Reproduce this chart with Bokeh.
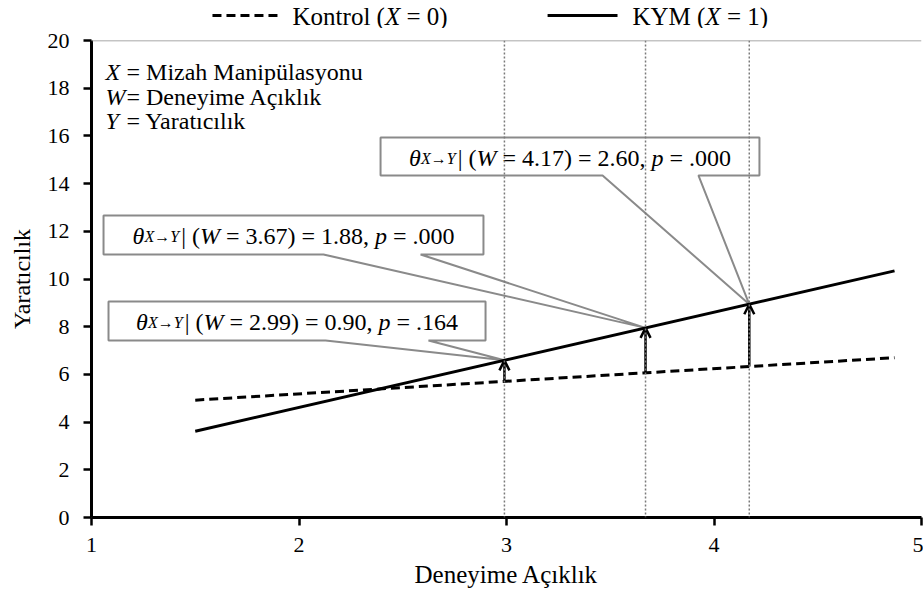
from bokeh.plotting import figure
from bokeh.layouts import column
from bokeh.models import (ColumnDataSource, Span, Arrow, OpenHead, FixedTicker, Range1d)
from bokeh.core.properties import value
from bokeh.embed import file_html
from bokeh.resources import INLINE

# ---------------- data ----------------
w_ends = [1.50, 4.87]
kontrol_y = [4.92, 6.70]
kym_y = [3.62, 10.34]
probe_w = [2.99, 3.67, 4.17]
probe_kontrol = [5.71, 6.07, 6.33]
probe_kym = [6.59, 7.95, 8.94]
theta_vals = ["0.90", "1.88", "2.60"]
p_vals = [".164", ".000", ".000"]
x_ticks = [1, 2, 3, 4, 5]
y_ticks = [0, 2, 4, 6, 8, 10, 12, 14, 16, 18, 20]
legend_names = ["Kontrol", "KYM"]
legend_x_vals = ["0", "1"]
var_letters = ["X", "W", "Y"]
var_names = ["= Mizah  Manipülasyonu", "= Deneyime  Açıklık", "= Yaratıcılık"]
x_title = "Deneyime Açıklık"
y_title = "Yaratıcılık"

# ---------------- layout / style constants ----------------
AX_FONT = "Liberation Serif"
FONT = "Times New Roman"
GRAY = "#8a8a8a"
W_PX = 923
LEG_H = 28
MAIN_H = 599 - LEG_H
# callout boxes (data units): left, right, top, bottom, leader attach 1, attach 2
boxes = [
    dict(l=1.082, r=2.899, t=9.06, b=7.42, a1=2.128, a2=2.624),
    dict(l=1.058, r=2.889, t=12.66, b=11.03, a1=2.118, a2=2.586),
    dict(l=2.393, r=4.219, t=15.93, b=14.34, a1=3.463, a2=3.925),
]
var_x = 1.0675
var_y = [18.70, 17.65, 16.64]
# legend layout (x in the shared data units, y in pixels of the legend strip)
leg_samples = [(1.583, 1.920), (3.198, 3.535)]
leg_text_x = [1.969, 3.607]
leg_line_y = LEG_H - 15
leg_base_y = LEG_H - 15.5

RM = {' ': 250, '(': 333, ')': 333, ',': 250, '.': 250, '=': 564, '|': 200,
      'K': 722, 'Y': 722, 'M': 889, 'o': 500, 'n': 500, 't': 278, 'r': 333, 'l': 278}
IT = {'X': 611, 'W': 833, 'Y': 556, 'p': 500, 'θ': 500, '→': 1000}


def width(s, italic, size):
    tab = IT if italic else RM
    return sum(tab.get(c, 500) for c in s) / 1000.0 * size


def rich_text(fig, x, y, pieces, center=True, yoff=0):
    """pieces: (text, italic, size, gap). Drawn as separate text glyphs."""
    widths = [width(s, it, sz) + gap for s, it, sz, gap in pieces]
    cur = -sum(widths) / 2 if center else 0.0
    groups = {}
    for (s, it, sz, gap), wd in zip(pieces, widths):
        lead = width(s[:len(s) - len(s.lstrip())], False, sz)
        key = (it, sz)
        g = groups.setdefault(key, dict(x=[], y=[], text=[], xo=[]))
        g["x"].append(x)
        g["y"].append(y)
        g["text"].append(s.strip())
        g["xo"].append(cur + gap + lead)
        cur += wd
    for (it, sz), d in groups.items():
        fig.text(x="x", y="y", text="text", x_offset="xo", y_offset=yoff + (1 if sz < 20 else 0),
                 source=ColumnDataSource(d), text_font=value(FONT),
                 text_font_size=value("%dpx" % sz),
                 text_font_style="italic" if it else "normal",
                 text_baseline="alphabetic", text_align="left", text_color="black")


# ---------------- main plot ----------------
p = figure(width=W_PX, height=MAIN_H, x_range=Range1d(1, 5), y_range=Range1d(0, 20),
           output_backend="svg", toolbar_location=None,
           min_border_left=91, min_border_right=2, min_border_top=12, min_border_bottom=82)
p.xgrid.visible = False
p.ygrid.visible = False
p.outline_line_color = None
p.background_fill_color = "white"
p.border_fill_color = "white"

for ax in (p.xaxis[0], p.yaxis[0]):
    ax.axis_line_width = 3
    ax.axis_line_color = "black"
    ax.major_tick_line_width = 2.5
    ax.major_tick_line_color = "black"
    ax.major_tick_out = 8
    ax.major_tick_in = 0
    ax.minor_tick_out = 0
    ax.minor_tick_in = 0
    ax.major_label_text_font = AX_FONT
    ax.major_label_text_font_size = "22px"
    ax.major_label_text_color = "black"
    ax.axis_label_text_font = AX_FONT
    ax.axis_label_text_font_style = "normal"
    ax.axis_label_text_color = "black"
p.xaxis[0].ticker = FixedTicker(ticks=x_ticks)
p.yaxis[0].ticker = FixedTicker(ticks=y_ticks)
p.xaxis[0].axis_label = x_title
p.yaxis[0].axis_label = y_title
p.xaxis[0].axis_label_text_font_size = "25px"
p.yaxis[0].axis_label_text_font_size = "24px"
p.xaxis[0].major_label_standoff = 12
p.yaxis[0].major_label_standoff = 14
p.xaxis[0].axis_label_standoff = 6
p.yaxis[0].axis_label_standoff = 10

# callouts
xs, ys = [], []
for b, tw, ty in zip(boxes, probe_w, probe_kym):
    xs.append([b["l"], b["r"], b["r"], b["a2"], tw, b["a1"], b["l"]])
    ys.append([b["t"], b["t"], b["b"], b["b"], ty, b["b"], b["b"]])
p.patches(xs, ys, fill_color="white", line_color=GRAY, line_width=2)

# lines
p.line(w_ends, kontrol_y, line_color="black", line_width=3, line_dash="9 5")
p.line(w_ends, kym_y, line_color="black", line_width=3)

# arrows
arr_src = ColumnDataSource(dict(x0=probe_w, y0=probe_kontrol, x1=probe_w, y1=probe_kym))
p.add_layout(Arrow(end=OpenHead(size=10, line_width=2.5, line_color="black"),
                   source=arr_src, x_start="x0", y_start="y0", x_end="x1", y_end="y1",
                   line_width=2.5, line_color="black"))

# dotted verticals and top border
for wv in probe_w:
    p.add_layout(Span(location=wv, dimension="height", line_color="#7a7a7a",
                      line_width=1.5, line_dash="2 2"))
p.add_layout(Span(location=y_ticks[-1], dimension="width", line_color=GRAY, line_width=1.5))

# variable definitions text
p.text(x=[var_x] * 3, y=var_y, text=var_letters, text_font=value(FONT),
       text_font_size=value("24px"), text_font_style="italic", text_baseline="alphabetic",
       text_color="black")
p.text(x=[var_x] * 3, y=var_y, text=var_names, text_font=value(FONT),
       text_font_size=value("24px"), text_baseline="alphabetic", x_offset=21,
       text_color="black")

# callout texts
for b, wv, th, pv in zip(boxes, probe_w, theta_vals, p_vals):
    pieces = [("θ", True, 24, 0), ("X→Y", True, 16, 0), ("| (", False, 24, 2),
              ("W", True, 24, 0), (" = %.2f) = %s, " % (wv, th), False, 24, 0),
              ("p", True, 24, 0), (" = %s" % pv, False, 24, 0)]
    rich_text(p, (b["l"] + b["r"]) / 2, (b["t"] + b["b"]) / 2, pieces, center=True, yoff=1)

# ---------------- legend strip (frame aligned with the plot) ----------------
leg = figure(width=W_PX, height=LEG_H, x_range=p.x_range, y_range=Range1d(0, LEG_H),
             output_backend="svg", toolbar_location=None, x_axis_type=None, y_axis_type=None,
             min_border=0)
leg.grid.visible = False
leg.outline_line_color = None
leg.background_fill_color = "white"
leg.border_fill_color = "white"
leg.line(list(leg_samples[0]), [leg_line_y] * 2, line_color="black", line_width=3,
         line_dash="9 5")
leg.line(list(leg_samples[1]), [leg_line_y] * 2, line_color="black", line_width=3)
for name, xv, tx in zip(legend_names, legend_x_vals, leg_text_x):
    rich_text(leg, tx, leg_base_y, [(name + " (", False, 25, 0), ("X", True, 25, 0),
                                     (" = %s)" % xv, False, 25, 0)], center=False)

layout = column(leg, p, spacing=0)
open("out.html", "w").write(file_html(layout, INLINE))
